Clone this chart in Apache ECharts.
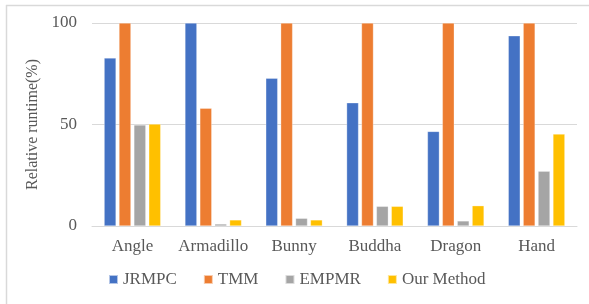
<!DOCTYPE html>
<html>
<head>
<meta charset="utf-8">
<script src="https://cdn.jsdelivr.net/npm/echarts@6/dist/echarts.min.js"></script>
<style>
  html, body { margin: 0; padding: 0; background: #fff; }
  #chart { width: 589px; height: 304px; }
</style>
</head>
<body>
<div id="chart"></div>
<script>
// data
var categories = ['Angle', 'Armadillo', 'Bunny', 'Buddha', 'Dragon', 'Hand'];
var jrmpc = [82.8, 100, 72.8, 60.7, 46.6, 93.7];
var tmm = [100, 58, 100, 100, 100, 100];
var empmr = [49.8, 1, 3.8, 9.7, 2.5, 27];
var ourMethod = [50.2, 3, 3, 9.7, 10, 45.3];
var seriesNames = ['JRMPC', 'TMM', 'EMPMR', 'Our Method'];

var chart = echarts.init(document.getElementById('chart'));

var font = '"Liberation Serif", "Times New Roman", serif';

function bar(name, data) {
    return {
        name: name,
        type: 'bar',
        data: data,
        barGap: '25%',
        barCategoryGap: '30%',
        itemStyle: { borderColor: 'rgba(255,255,255,0.6)', borderWidth: 0.5 }
    };
}

var option = {
    animation: false,
    color: ['#4472C4', '#ED7D31', '#A5A5A5', '#FFC000'],
    textStyle: { fontFamily: font },
    graphic: [
        { type: 'line', shape: { x1: 6.5, y1: 5, x2: 6.5, y2: 304 }, style: { stroke: '#d9d9d9', lineWidth: 1.5 } },
        { type: 'line', shape: { x1: 6, y1: 5.5, x2: 589, y2: 5.5 }, style: { stroke: '#d9d9d9', lineWidth: 1.5 } }
    ],
    grid: { left: 92, right: 12, top: 23, bottom: 78 },
    legend: {
        data: seriesNames,
        top: 266,
        left: 103,
        itemWidth: 9,
        itemHeight: 9,
        itemGap: 26,
        icon: 'rect',
        textStyle: { fontFamily: font, fontSize: 17, color: '#595959' }
    },
    xAxis: {
        type: 'category',
        data: categories,
        axisTick: { show: false },
        axisLine: { lineStyle: { color: '#d9d9d9' } },
        axisLabel: { interval: 0, fontFamily: font, fontSize: 17, color: '#595959', margin: 12 }
    },
    yAxis: {
        type: 'value',
        min: 0,
        max: 100,
        interval: 50,
        name: 'Relative runtime(%)',
        nameLocation: 'middle',
        nameGap: 38,
        nameTextStyle: { fontFamily: font, fontSize: 16, color: '#595959' },
        axisLine: { show: false },
        axisTick: { show: false },
        splitLine: { lineStyle: { color: '#d9d9d9' } },
        axisLabel: { fontFamily: font, fontSize: 17, color: '#595959', margin: 15 }
    },
    series: [
        bar(seriesNames[0], jrmpc),
        bar(seriesNames[1], tmm),
        bar(seriesNames[2], empmr),
        bar(seriesNames[3], ourMethod)
    ]
};

chart.setOption(option);
</script>
</body>
</html>
